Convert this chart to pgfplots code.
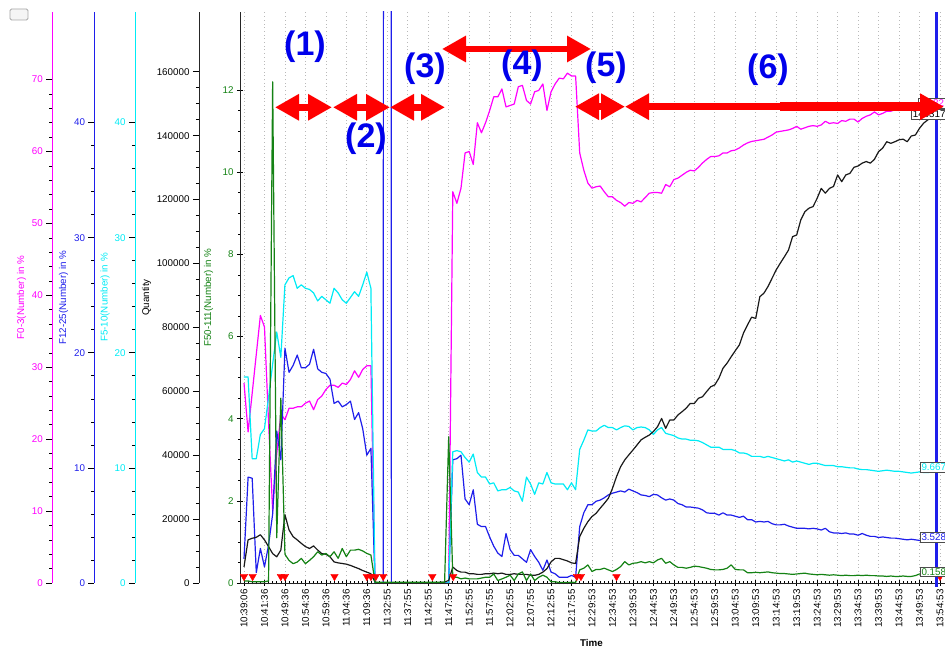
\documentclass[border=0pt]{standalone}
\usepackage{fontspec}
\setmainfont{Liberation Sans}
\usepackage{pgfplots}
\pgfplotsset{compat=1.18}
\usetikzlibrary{arrows.meta}

\definecolor{cMag}{RGB}{255,0,255}
\definecolor{cBlue}{RGB}{30,30,235}
\definecolor{cCyan}{RGB}{0,235,245}
\definecolor{cGreen}{RGB}{20,130,20}
\definecolor{cRed}{RGB}{255,0,0}
\definecolor{cLab}{RGB}{0,0,235}

% x = sample number (one per minor tick), labels every 5 samples
\pgfplotsset{
  base/.style={
    scale only axis, height=571pt, xmax=171.23, ymin=0, anchor=south west,
    tick style={black, line width=0.6pt},
    major tick length=6pt, minor tick length=3pt,
    tick label style={font=\fontsize{9.8}{11}\selectfont},
    label style={font=\fontsize{9.8}{11}\selectfont},
    /pgf/number format/assume math mode=true,
    /pgf/number format/fixed,
    /pgf/number format/1000 sep={},
    scaled y ticks=false,
  },
  side/.style={base, axis x line=none, axis y line*=left, xtick=\empty,
    tick align=outside},
  ser/.style={line width=1.2pt, line join=round},
}

\begin{document}
\begin{tikzpicture}
\useasboundingbox (-240pt,-67pt) rectangle (705pt,583pt);

% time axis, grid and the green scale
\begin{axis}[base, at={(0pt,0pt)}, width=705pt, xmin=-0.977, ymax=13.9,
  axis x line*=bottom, axis y line*=left, tick align=center,
  axis line style={black!85, line width=0.7pt},
  xtick={0,5,...,170}, minor x tick num=4,
  xticklabels={10:39:06,10:41:36,10:49:36,10:54:36,10:59:36,11:04:36,11:09:36,
    11:32:55,11:37:55,11:42:55,11:47:55,11:52:55,11:57:55,12:02:55,12:07:55,
    12:12:55,12:17:55,12:29:53,12:34:53,12:39:53,12:44:53,12:49:53,12:54:53,
    12:59:53,13:04:53,13:09:53,13:14:53,13:19:53,13:24:53,13:29:53,13:34:53,
    13:39:53,13:44:53,13:49:53,13:54:53},
  xticklabel style={rotate=90, anchor=east},
  xmajorgrids, major x grid style={gray!55, line width=0.7pt, dash pattern=on 0.7pt off 3pt},
  ytick={0,2,...,12}, minor y tick num=3, yticklabel style={text=cGreen},
  ylabel={F50-111(Number) in \%},
  ylabel style={text=cGreen, at={(axis description cs:-0.0447,0.5)}, anchor=center},
  xlabel={Time},
  xlabel style={font=\fontsize{9.8}{11}\selectfont\bfseries, at={(axis description cs:0.4986,-0.105)}, anchor=center},
]
\end{axis}

% F0-3
\begin{axis}[side, at={(-187.7pt,0pt)}, width=892.7pt, xmin=-46.83, ymax=79.4,
  axis line style={cMag, line width=0.8pt},
  ytick={0,10,...,70}, minor y tick num=4, yticklabel style={text=cMag},
  ylabel={F0-3(Number) in \%},
  ylabel style={text=cMag, at={(axis description cs:-0.0345,0.5)}, anchor=center}]
\addplot[ser, cMag] coordinates {
(0,27.8) (1,21.0) (2,26.4) (3,31.8) (4,37.2) (5,35.6) (6,22.3) (7,10.0) (8,18.0) (9,23.5)
(10,22.7) (11,24.3) (12,24.3) (13,24.5) (14,24.5) (15,25.0) (16,25.3) (17,24.1) (18,25.5) (19,26.0)
(20,26.9) (21,27.5) (22,27.5) (23,27.2) (24,27.8) (25,27.6) (26,28.3) (27,29.5) (28,28.6) (29,29.7)
(30,30.2) (31,30.2) (32,0) (50,0) (51,54.4) (52,52.8) (53,54.9) (54,59.8) (55,60.0) (56,58.2)
(57,64.0) (58,62.6) (59,64.0) (60,65.7) (61,67.6) (62,67.6) (63,68.7) (64,66.2) (65,66.4) (66,66.6)
(67,69.0) (68,69.2) (69,67.1) (70,66.6) (71,68.3) (72,68.5) (73,69.4) (74,65.7) (75,68.3) (76,69.4)
(77,70.2) (78,70.1) (79,70.9) (80,70.5) (81,70.5) (82,59.8) (83,57.4) (84,55.6) (85,54.9) (86,55.1)
(87,55.2) (88,54.4) (89,53.7) (90,53.7) (91,53.2) (92,52.9) (93,52.4) (94,52.9) (95,52.8) (96,53.2)
(97,53.0) (98,53.6) (99,54.2) (100,54.3) (101,54.3) (102,54.2) (103,55.4) (104,55.1) (105,56.1) (106,56.3)
(107,56.7) (108,57.1) (109,57.4) (110,57.3) (111,57.8) (112,58.4) (113,58.9) (114,59.3) (115,59.3) (116,59.4)
(117,59.8) (118,59.8) (119,60.1) (120,60.2) (121,60.5) (122,60.9) (123,61.2) (124,61.4) (125,61.5) (126,61.6)
(127,61.7) (128,62.0) (129,62.3) (130,62.7) (131,62.8) (132,62.9) (133,63.0) (134,63.2) (135,63.5) (136,63.1)
(137,63.3) (138,63.5) (139,63.6) (140,63.5) (141,63.7) (142,64.2) (143,63.9) (144,64.0) (145,63.9) (146,64.3)
(147,64.2) (148,64.5) (149,64.5) (150,64.1) (151,64.6) (152,64.9) (153,65.1) (154,65.5) (155,65.1) (156,65.3)
(157,65.6) (158,65.6) (159,65.8) (160,65.7) (161,66.0) (162,66.0) (163,66.0) (164,66.2) (165,66.2) (166,66.5)
(167,66.6) (168,66.7) (169,66.8)};
\end{axis}

% F12-25
\begin{axis}[side, at={(-145.5pt,0pt)}, width=850.5pt, xmin=-36.52, ymax=49.6,
  axis line style={cBlue, line width=0.8pt},
  ytick={0,10,...,40}, minor y tick num=4, yticklabel style={text=cBlue},
  ylabel={F12-25(Number) in \%},
  ylabel style={text=cBlue, at={(axis description cs:-0.03645,0.5)}, anchor=center}]
\addplot[ser, cBlue] coordinates {
(0,2.1) (1,9.2) (2,9.1) (3,0.9) (4,3.0) (5,1.4) (6,3.3) (7,6.0) (8,13.2) (9,10.7)
(10,20.4) (11,18.3) (12,18.9) (13,19.8) (14,18.7) (15,18.7) (16,19.0) (17,20.3) (18,18.6) (19,18.3)
(20,18.2) (21,17.7) (22,15.6) (23,15.8) (24,15.3) (25,15.5) (26,15.8) (27,14.2) (28,14.8) (29,13.4)
(30,11.1) (31,11.7) (32,0) (34,0) (35,1000) (36,0) (50,0) (51,10.7) (52,10.8) (53,11.1)
(54,7.3) (55,6.8) (56,8.1) (57,5.1) (58,4.9) (59,4.9) (60,4.0) (61,3.2) (62,2.6) (63,2.3)
(64,4.3) (65,2.9) (66,2.4) (67,2.4) (68,2.1) (69,1.8) (70,2.9) (71,2.3) (72,1.8) (73,1.1)
(74,2.0) (75,0.95) (76,0.8) (77,0.5) (78,0.5) (79,0.5) (80,0.66) (81,0.5) (82,4.9) (83,6.1)
(84,6.8) (85,6.8) (86,7.1) (87,7.2) (88,7.4) (89,7.65) (90,7.8) (91,7.9) (92,8.0) (93,7.9)
(94,8.15) (95,8.0) (96,7.85) (97,7.65) (98,7.6) (99,7.5) (100,7.7) (101,7.65) (102,7.4) (103,7.2)
(104,7.3) (105,7.2) (106,6.9) (107,6.8) (108,6.6) (109,6.6) (110,6.55) (111,6.5) (112,6.35) (113,6.1)
(114,6.05) (115,6.05) (116,5.9) (117,6.1) (118,5.9) (119,5.9) (120,5.8) (121,5.7) (122,5.8) (123,5.5)
(124,5.5) (125,5.3) (126,5.35) (127,5.3) (128,5.35) (129,5.15) (130,5.05) (131,5.05) (132,5.1) (133,4.95)
(134,4.85) (135,4.75) (136,4.75) (137,4.75) (138,4.7) (139,4.75) (140,4.7) (141,4.6) (142,4.75) (143,4.45)
(144,4.35) (145,4.35) (146,4.3) (147,4.35) (148,4.25) (149,4.25) (150,4.15) (151,4.3) (152,4.15) (153,4.05)
(154,4.05) (155,3.95) (156,4.0) (157,3.95) (158,3.9) (159,3.9) (160,3.85) (161,3.8) (162,3.75) (163,3.8)
(164,3.75) (165,3.7) (166,3.6) (167,3.6) (168,3.55) (169,3.528)};
\end{axis}

% F5-10
\begin{axis}[side, at={(-105pt,0pt)}, width=810pt, xmin=-26.62, ymax=49.6,
  axis line style={cCyan, line width=0.8pt},
  ytick={0,10,...,40}, minor y tick num=4, yticklabel style={text=cCyan},
  ylabel={F5-10(Number) in \%},
  ylabel style={text=cCyan, at={(axis description cs:-0.03704,0.5)}, anchor=center}]
\addplot[ser, cCyan] coordinates {
(0,17.9) (1,17.9) (2,10.8) (3,10.8) (4,12.9) (5,13.4) (6,16.1) (7,19.0) (8,21.8) (9,19.6)
(10,25.9) (11,26.5) (12,26.7) (13,25.6) (14,25.9) (15,25.6) (16,25.5) (17,25.2) (18,24.5) (19,24.9)
(20,24.6) (21,24.3) (22,25.6) (23,25.2) (24,24.6) (25,24.3) (26,24.8) (27,25.3) (28,24.9) (29,25.9)
(30,27.0) (31,25.6) (32,0) (50,0) (51,11.4) (52,11.5) (53,11.4) (54,10.9) (55,10.5) (56,11.2)
(57,9.6) (58,9.2) (59,9.2) (60,8.6) (61,8.7) (62,8.0) (63,8.1) (64,8.1) (65,8.3) (66,8.0)
(67,7.9) (68,7.1) (69,9.2) (70,8.6) (71,7.7) (72,8.7) (73,8.6) (74,9.6) (75,8.7) (76,8.6)
(77,8.6) (78,8.6) (79,8.1) (80,8.7) (81,8.1) (82,11.6) (83,12.4) (84,13.3) (85,13.2) (86,13.2)
(87,13.5) (88,13.7) (89,13.5) (90,13.5) (91,13.3) (92,13.5) (93,13.65) (94,13.6) (95,13.3) (96,13.5)
(97,13.55) (98,13.5) (99,13.3) (100,12.9) (101,13.3) (102,13.5) (103,13.0) (104,12.9) (105,12.8) (106,12.6)
(107,12.5) (108,12.5) (109,12.4) (110,12.4) (111,12.35) (112,12.2) (113,12.0) (114,11.8) (115,11.8) (116,11.8)
(117,11.6) (118,11.6) (119,11.6) (120,11.5) (121,11.3) (122,11.3) (123,11.2) (124,11.0) (125,11.0) (126,11.0)
(127,10.9) (128,11.0) (129,10.9) (130,10.8) (131,10.7) (132,10.6) (133,10.7) (134,10.5) (135,10.6) (136,10.5)
(137,10.4) (138,10.3) (139,10.4) (140,10.4) (141,10.3) (142,10.2) (143,10.2) (144,10.2) (145,10.1) (146,10.1)
(147,10.05) (148,10.0) (149,10.0) (150,9.9) (151,9.85) (152,9.85) (153,9.8) (154,9.75) (155,9.7) (156,9.75)
(157,9.8) (158,9.75) (159,9.7) (160,9.7) (161,9.65) (162,9.6) (163,9.55) (164,9.6) (165,9.65) (166,9.6)
(167,9.6) (168,9.62) (169,9.667)};
\end{axis}

% Quantity
\begin{axis}[side, at={(-41pt,0pt)}, width=746pt, xmin=-10.99, ymax=178700,
  axis line style={black!85, line width=0.8pt},
  ytick={0,20000,40000,60000,80000,100000,120000,140000,160000}, minor y tick num=3,
  yticklabel style={/pgf/number format/precision=0},
  ylabel={Quantity},
  ylabel style={at={(axis description cs:-0.07038,0.5)}, anchor=center}]
\addplot[ser, black!90] coordinates {
(0,5000) (1,13500) (2,14000) (3,14300) (4,15100) (5,13500) (6,11400) (7,9200) (8,8200) (9,10300)
(10,21400) (11,16600) (12,14500) (13,13500) (14,12400) (15,11400) (16,10800) (17,11600) (18,10300) (19,9200)
(20,9000) (21,8200) (22,6600) (23,6300) (24,6100) (25,5900) (26,5500) (27,5000) (28,4500) (29,3900)
(30,3400) (31,2900) (32,300) (33,0) (47,0) (48,200) (49,300) (50,800) (51,5000) (52,3900)
(53,3400) (54,3400) (55,2900) (56,2900) (57,2700) (58,2700) (59,2900) (60,2900) (61,3100) (62,2900)
(63,3100) (64,2700) (65,2700) (66,2900) (67,2700) (68,2700) (69,2700) (70,2400) (71,2400) (72,2700)
(73,3400) (74,4500) (75,6600) (76,7700) (77,7700) (78,7300) (79,6900) (80,6300) (81,6100) (82,14500)
(83,17100) (84,19200) (85,20800) (86,21800) (87,23400) (88,24900) (89,26500) (90,29600) (91,33300) (92,36400)
(93,38500) (94,40100) (95,41600) (96,43200) (97,44800) (98,45600) (99,46300) (100,47400) (101,48900) (102,51500)
(103,48400) (104,51000) (105,51000) (106,52600) (107,53600) (108,54700) (109,56200) (110,56200) (111,57800) (112,58300)
(113,59900) (114,61400) (115,62000) (116,64100) (117,67200) (118,68800) (119,70800) (120,72700) (121,74500) (122,78200)
(123,80800) (124,83200) (125,82800) (126,89600) (127,90700) (128,92800) (129,95400) (130,98000) (131,100100) (132,102100)
(133,104200) (134,108400) (135,108900) (136,113600) (137,116200) (138,117300) (139,117800) (140,120400) (141,123500) (142,122000)
(143,123500) (144,124100) (145,127700) (146,125600) (147,127700) (148,128200) (149,130100) (150,130500) (151,131400) (152,131900)
(153,131400) (154,132600) (155,135000) (156,136100) (157,138100) (158,137600) (159,138100) (160,138700) (161,138900) (162,138100)
(163,139900) (164,140200) (165,142300) (166,143900) (167,144900) (168,145800) (169,146500)};
\end{axis}

% F50-111 data and event markers
\begin{axis}[base, at={(0pt,0pt)}, width=705pt, xmin=-0.977, ymax=13.9, hide axis]
\addplot[ser, cGreen] coordinates {
(0,0.05) (1,0.05) (2,0.03) (3,0.03) (4,0.03) (5,0.03) (6,0.05) (7,12.2) (8,1.1) (9,4.5)
(10,0.7) (11,0.55) (12,0.47) (13,0.51) (14,0.60) (15,0.47) (16,0.55) (17,0.64) (18,0.76) (19,0.68)
(20,0.72) (21,0.64) (22,0.76) (23,0.60) (24,0.84) (25,0.64) (26,0.80) (27,0.80) (28,0.82) (29,0.78)
(30,0.72) (31,0.68) (32,0.02) (49,0.02) (50,3.56) (51,0.14) (52,0.14) (53,0.10) (54,0.12) (55,0.10)
(56,0.10) (57,0.10) (58,0.12) (59,0.14) (60,0.14) (61,0.22) (62,0.06) (63,0.10) (64,0.14) (65,0.19)
(66,0.06) (67,0.22) (68,0.27) (69,0.06) (70,0.22) (71,0.06) (72,0.14) (73,0.19) (74,0.14) (75,0.03)
(76,0.03) (77,0.01) (78,0.01) (79,0.01) (80,0.02) (81,0.01) (82,0.32) (83,0.36) (84,0.44) (85,0.28)
(86,0.33) (87,0.33) (88,0.36) (89,0.32) (90,0.28) (91,0.33) (92,0.40) (93,0.52) (94,0.44) (95,0.48)
(96,0.49) (97,0.52) (98,0.49) (99,0.52) (100,0.49) (101,0.56) (102,0.60) (103,0.48) (104,0.52) (105,0.44)
(106,0.38) (107,0.38) (108,0.36) (109,0.38) (110,0.41) (111,0.40) (112,0.38) (113,0.36) (114,0.33) (115,0.32)
(116,0.32) (117,0.33) (118,0.36) (119,0.44) (120,0.33) (121,0.32) (122,0.32) (123,0.25) (124,0.25) (125,0.26)
(126,0.25) (127,0.26) (128,0.27) (129,0.25) (130,0.24) (131,0.23) (132,0.23) (133,0.22) (134,0.21) (135,0.22)
(136,0.23) (137,0.24) (138,0.22) (139,0.21) (140,0.20) (141,0.21) (142,0.20) (143,0.19) (144,0.20) (145,0.19)
(146,0.18) (147,0.19) (148,0.18) (149,0.18) (150,0.19) (151,0.18) (152,0.19) (153,0.18) (154,0.18) (155,0.17)
(156,0.17) (157,0.16) (158,0.17) (159,0.16) (160,0.16) (161,0.17) (162,0.16) (163,0.16) (164,0.18) (165,0.22)
(166,0.20) (167,0.18) (168,0.17) (169,0.158)};
\addplot[only marks, mark=triangle*, mark size=4.3pt,
  mark options={rotate=180, draw=cRed, fill=cRed}] coordinates {
(0,0.16) (2.1,0.16) (9,0.16) (10,0.16) (22.1,0.16) (30,0.16) (31,0.16) (32.2,0.16)
(34,0.16) (46,0.16) (51.1,0.16) (81.3,0.16) (82.3,0.16) (91,0.16) (170,0.16)};
\end{axis}

% cursor and value boxes
\draw[cBlue, line width=3pt] (696.5pt,-4pt) -- (696.5pt,571pt);
\tikzset{vbox/.style={draw=black!70, fill=white, inner sep=1.3pt,
  font=\fontsize{9.8}{11}\selectfont}}
\node[vbox, anchor=west, text=cMag] at (678pt,480pt) {66.82};
\node[vbox, anchor=east, text=black] at (707pt,469pt) {146317};
\node[vbox, anchor=west, text=cCyan] at (680pt,116pt) {9.667};
\node[vbox, anchor=west, text=cBlue] at (680pt,45.7pt) {3.528};
\node[vbox, anchor=west, text=cGreen] at (680pt,11.3pt) {0.158};

% phase arrows and numbers
\tikzset{rarr/.style={draw=cRed, line width=6.5pt,
  {Triangle[length=24pt,width=25pt]}-{Triangle[length=24pt,width=25pt]}}}
\draw[rarr] (35pt,475.7pt) -- (92pt,475.7pt);
\draw[rarr] (93pt,475.7pt) -- (150pt,475.7pt);
\draw[rarr] (150pt,475.7pt) -- (205pt,475.7pt);
\draw[rarr] (202pt,534pt) -- (351pt,534pt);
\draw[cRed, line width=9pt] (540pt,476.3pt) -- (680pt,476.3pt);
\draw[rarr] (335pt,476.3pt) -- (385pt,476.3pt);
\draw[rarr] (385pt,476.3pt) -- (704pt,476.3pt);
\tikzset{num/.style={text=cLab, inner sep=0pt, font=\fontsize{34}{36}\selectfont\bfseries}}
\node[num] at (65pt,536pt) {(1)};
\node[num] at (126pt,444pt) {(2)};
\node[num] at (185pt,514pt) {(3)};
\node[num] at (282pt,517pt) {(4)};
\node[num] at (366pt,515pt) {(5)};
\node[num] at (528pt,513pt) {(6)};

% small window button at top left
\draw[gray!70, fill=gray!8, rounded corners=1.5pt, line width=0.8pt]
  (-230pt,563pt) rectangle (-212pt,574pt);
\end{tikzpicture}
\end{document}
